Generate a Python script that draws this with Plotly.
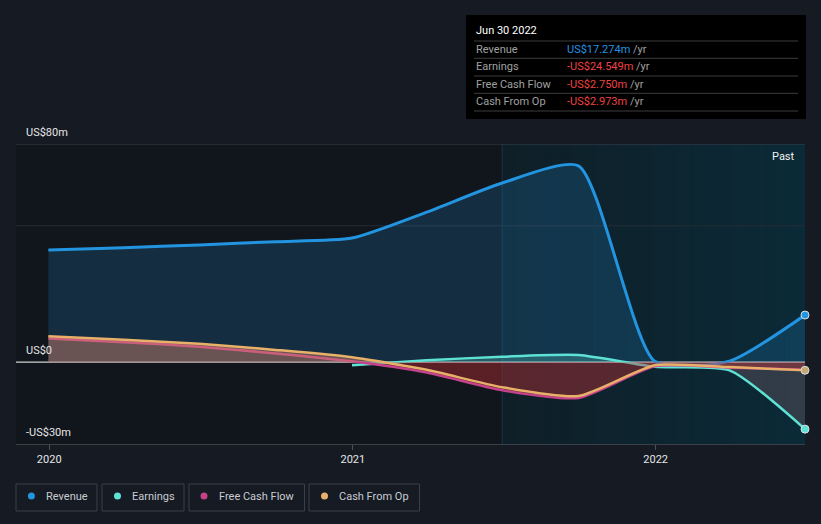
import plotly.graph_objects as go
import datetime as dt

# ---------------- data (US$ m) ----------------
quarters = ["2019-12-31", "2020-03-31", "2020-06-30", "2020-09-30", "2020-12-31",
            "2021-03-31", "2021-06-30", "2021-09-30", "2021-12-31", "2022-03-31",
            "2022-06-30"]
revenue = [41.1, 42.0, 43.0, 44.2, 45.5, 55.0, 65.7, 72.0, 0.3, 0.4, 17.274]
earnings_dates = quarters[4:]
earnings = [-1.1, 0.7, 2.0, 2.6, -1.7, -3.0, -24.549]
fcf = [8.7, 7.3, 5.7, 3.2, 0.3, -3.8, -10.3, -13.1, -1.5, -2.0, -2.750]
cfo = [9.5, 8.2, 6.8, 4.5, 1.8, -2.8, -9.2, -12.4, -1.1, -1.8, -2.973]

year_ticks = ["2020-01-01", "2021-01-01", "2022-01-01"]
year_labels = ["2020", "2021", "2022"]
y_labels = {80: "US$80m", 0: "US$0", -30: "-US$30m"}

tooltip_title = "Jun 30 2022"
tooltip_rows = [("Revenue", "US$17.274m", "#2394e0"),
                ("Earnings", "-US$24.549m", "#f04242"),
                ("Free Cash Flow", "-US$2.750m", "#f04242"),
                ("Cash From Op", "-US$2.973m", "#f04242")]

C_REV = "#2394e0"
C_EARN = "#5ee2d4"
C_FCF = "#c4428a"
C_CFO = "#e8b068"

W, H = 821, 524
L, R, T, B = 16, 805, 144, 444
YMIN, YMAX = -30, 80


def xp(px):
    return (px - L) / (R - L)


def yp(py):
    return (B - py) / (B - T)


def split_gradient(neg_col, pos_col):
    z = (0 - YMIN) / (YMAX - YMIN)
    return dict(type="vertical", start=YMIN, stop=YMAX,
                colorscale=[[0, neg_col], [z, neg_col], [z, pos_col], [1, pos_col]])


fig = go.Figure()
spl = dict(shape="spline", smoothing=0.6)

fig.add_trace(go.Scatter(x=quarters, y=revenue, mode="lines", fill="tozeroy",
                         fillcolor="rgba(35,148,224,0.19)",
                         line=dict(color=C_REV, width=3, **spl), hoverinfo="skip"))
fig.add_trace(go.Scatter(x=earnings_dates, y=earnings, mode="lines", fill="tozeroy",
                         fillgradient=split_gradient("rgba(205,135,145,0.20)",
                                                     "rgba(94,226,212,0.25)"),
                         line=dict(color=C_EARN, width=2.5, **spl), hoverinfo="skip"))
fig.add_trace(go.Scatter(x=quarters, y=fcf, mode="lines", fill="tozeroy",
                         fillgradient=split_gradient("rgba(200,48,53,0.40)",
                                                     "rgba(200,48,53,0.0)"),
                         line=dict(color=C_FCF, width=2.5, **spl), hoverinfo="skip"))
fig.add_trace(go.Scatter(x=quarters, y=cfo, mode="lines", fill="tozeroy",
                         fillgradient=split_gradient("rgba(210,131,106,0.0)",
                                                     "rgba(210,131,106,0.45)"),
                         line=dict(color=C_CFO, width=2.5, **spl), hoverinfo="skip"))

# end markers
for xs, ys, col in [(quarters, revenue, C_REV), (earnings_dates, earnings, C_EARN),
                    (quarters, cfo, "#c8a870")]:
    fig.add_trace(go.Scatter(x=[xs[-1]], y=[ys[-1]], mode="markers",
                             marker=dict(size=8, color=col, line=dict(color="#d8e0e8", width=1)),
                             hoverinfo="skip", cliponaxis=False))

shapes = []
# past region gradient (overlapping stripes, each running to the right edge)
p0 = dt.date(2021, 6, 30)
p1 = dt.date(2022, 6, 30)
n = 60
c0 = (15, 31, 40)
c1 = (11, 42, 55)
span = (p1 - p0).days
for i in range(n):
    a = p0 + dt.timedelta(days=span * i / n)
    t = i / (n - 1)
    col = "rgb(%d,%d,%d)" % tuple(round(c0[k] + (c1[k] - c0[k]) * t) for k in range(3))
    shapes.append(dict(type="rect", xref="x", yref="paper", x0=str(a), x1=str(p1),
                       y0=0, y1=1, fillcolor=col, line=dict(width=0), layer="below"))
shapes.append(dict(type="line", xref="x", yref="paper", x0=str(p0), x1=str(p0), y0=0, y1=1,
                   line=dict(color="#173644", width=1), layer="below"))
# gridlines
shapes.append(dict(type="line", xref="paper", yref="y", x0=0, x1=1, y0=80, y1=80,
                   line=dict(color="#3a4049", width=1), layer="below"))
shapes.append(dict(type="line", xref="paper", yref="y", x0=0, x1=1, y0=50, y1=50,
                   line=dict(color="#262d36", width=1), layer="below"))
shapes.append(dict(type="line", xref="paper", yref="y", x0=0, x1=1, y0=0, y1=0,
                   line=dict(color="#d0d0d0", width=1.2), layer="below"))

annotations = []
for v, txt in y_labels.items():
    annotations.append(dict(xref="paper", yref="y", x=xp(24), y=v, text=txt, showarrow=False,
                            xanchor="left", yanchor="middle", yshift=12,
                            font=dict(size=11, color="#e6e6e6")))
annotations.append(dict(xref="paper", yref="paper", x=xp(797), y=yp(156), text="Past",
                        showarrow=False, xanchor="right", yanchor="middle",
                        font=dict(size=11, color="#f0f0f0")))

# tooltip box
shapes.append(dict(type="rect", xref="paper", yref="paper", x0=xp(466), x1=xp(806),
                   y0=yp(119), y1=yp(15), fillcolor="#000000", line=dict(width=0), layer="above"))
for sy in [41, 58.3, 76, 93.3, 111]:
    shapes.append(dict(type="line", xref="paper", yref="paper", x0=xp(474), x1=xp(798),
                       y0=yp(sy), y1=yp(sy), line=dict(color="#3c3c3c", width=1), layer="above"))
annotations.append(dict(xref="paper", yref="paper", x=xp(474), y=yp(31), text=tooltip_title,
                        showarrow=False, xanchor="left", yanchor="middle",
                        font=dict(size=11, color="#ffffff")))
for i, (lab, val, col) in enumerate(tooltip_rows):
    ry = [49, 66.7, 84.3, 101.7][i]
    annotations.append(dict(xref="paper", yref="paper", x=xp(474), y=yp(ry), text=lab,
                            showarrow=False, xanchor="left", yanchor="middle",
                            font=dict(size=11, color="#a0a0a0")))
    annotations.append(dict(xref="paper", yref="paper", x=xp(565), y=yp(ry),
                            text="<span style='color:%s'>%s</span> /yr" % (col, val),
                            showarrow=False, xanchor="left", yanchor="middle",
                            font=dict(size=11, color="#a0a0a0")))

# legend
legend_items = [("Revenue", C_REV, 16, 97, 31.4, 44),
                ("Earnings", C_EARN, 102, 184, 117.5, 130),
                ("Free Cash Flow", C_FCF, 189, 304.5, 204, 217),
                ("Cash From Op", C_CFO, 309, 419.5, 324.5, 337)]
for name, col, bx0, bx1, dx, tx in legend_items:
    shapes.append(dict(type="rect", xref="paper", yref="paper", x0=xp(bx0), x1=xp(bx1),
                       y0=yp(511), y1=yp(484), fillcolor="rgba(0,0,0,0)",
                       line=dict(color="#3a3f48", width=1), layer="above"))
    shapes.append(dict(type="circle", xref="paper", yref="paper", x0=xp(dx - 3.5), x1=xp(dx + 3.5),
                       y0=yp(499.5), y1=yp(492.5), fillcolor=col, line=dict(width=0), layer="above"))
    annotations.append(dict(xref="paper", yref="paper", x=xp(tx), y=yp(496.5), text=name,
                            showarrow=False, xanchor="left", yanchor="middle",
                            font=dict(size=11, color="#c8ccd2")))

fig.update_layout(
    width=W, height=H,
    margin=dict(l=L, r=W - R, t=T, b=H - B, pad=0),
    paper_bgcolor="#151a23",
    plot_bgcolor="#11151c",
    showlegend=False,
    font=dict(family="Roboto, sans-serif", size=11, color="#e6e6e6"),
    shapes=shapes,
    annotations=annotations,
    xaxis=dict(type="date", range=["2019-11-22", "2022-06-30"], tickvals=year_ticks,
               ticktext=year_labels, showgrid=False, zeroline=False, ticks="outside",
               ticklen=5, tickcolor="#4a4f58", showline=True, linecolor="#3a4049",
               tickfont=dict(size=11, color="#e6e6e6"), fixedrange=True),
    yaxis=dict(range=[YMIN, YMAX], showgrid=False, zeroline=False, showticklabels=False,
               fixedrange=True),
    hovermode=False,
)

fig.write_html("out.html", config={"displayModeBar": False},
               post_script="document.body.style.margin='0';document.body.style.background='#151a23';")
